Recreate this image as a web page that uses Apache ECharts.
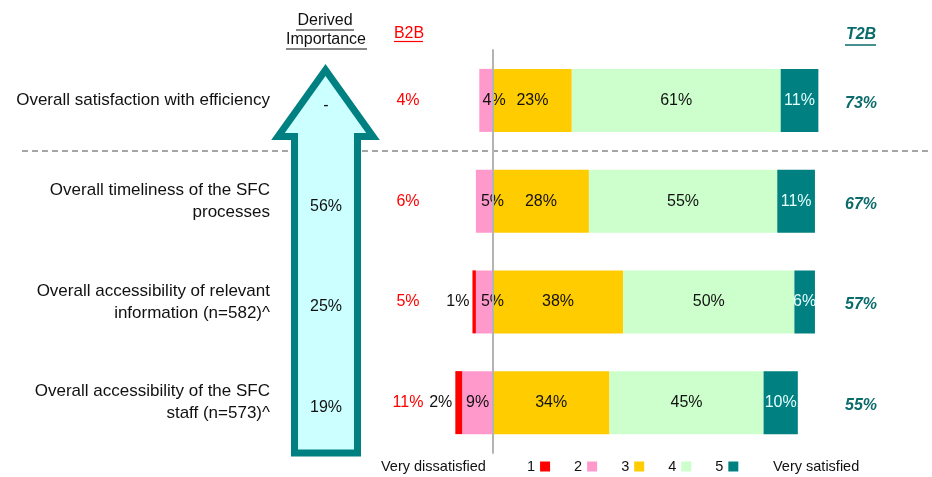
<!DOCTYPE html>
<html>
<head>
<meta charset="utf-8">
<script src="https://cdn.jsdelivr.net/npm/echarts@6/dist/echarts.min.js"></script>
<style>
html, body { margin: 0; padding: 0; background: #fff; }
#main { width: 932px; height: 477px; }
</style>
</head>
<body>
<div id="main"></div>
<script>
// rows, top to bottom
var categories = [
    'Overall satisfaction with efficiency',
    'Overall timeliness of the SFC\nprocesses',
    'Overall accessibility of relevant\ninformation (n=582)^',
    'Overall accessibility of the SFC\nstaff (n=573)^'
];
var scaleNames = ['1', '2', '3', '4', '5'];
var score1 = [0, 0, 1, 2];
var score2 = [4, 5, 5, 9];
var score3 = [23, 28, 38, 34];
var score4 = [61, 55, 50, 45];
var score5 = [11, 11, 6, 10];
var b2b = ['4%', '6%', '5%', '11%'];
var t2b = ['73%', '67%', '57%', '55%'];
var importance = ['-', '56%', '25%', '19%'];

var FONT = 'Arial, "Liberation Sans", sans-serif';
var colors = { '1': '#ff0000', '2': '#ff99cc', '3': '#ffcc00', '4': '#ccffcc', '5': '#008080' };
var TEAL = '#0b6b6b';

// tiny jquery-like extend so the helpers stay short
var $ = { extend: function (a, b) { for (var k in b) { a[k] = b[k]; } return a; } };

var myChart = echarts.init(document.getElementById('main'));

function pct(p) {
    var v = Math.abs(p.value);
    return v === 0 ? '' : v + '%';
}

function barSeries(name, values, negative, label) {
    return {
        name: name,
        type: 'bar',
        stack: 'likert',
        barWidth: 63,
        itemStyle: { color: colors[name] },
        label: $.extend({ show: true, fontSize: 16, fontFamily: FONT, color: '#111', formatter: pct }, label),
        data: values.map(function (v) { return negative ? -v : v; })
    };
}

// negative side: stack "2" first so it sits next to zero, "1" goes outside it
var pinkSeries = barSeries('2', score2, true, { position: 'inside' });
pinkSeries.data = score2.map(function (v) {
    return { value: -v, label: { offset: v < 8 ? [8, 0] : [0, 0] } };
});

var option = {
    animation: false,
    textStyle: { fontFamily: FONT },
    grid: { left: 424.5, right: 96.5, top: 50, bottom: 24, containLabel: false, outerBoundsMode: 'none' },
    xAxis: { type: 'value', min: -20, max: 100, show: false },
    yAxis: {
        type: 'category',
        inverse: true,
        data: categories,
        z: 5,
        axisLine: { onZero: true, lineStyle: { color: '#b4b4b4', width: 2 } },
        axisTick: { length: 4, lineStyle: { color: '#b4b4b4', width: 1.5 } },
        // labels stay at the grid edge (424.5), not at the zero line
        axisLabel: { margin: 154.5, fontSize: 17, lineHeight: 22, color: '#111', fontFamily: FONT, align: 'right' }
    },
    legend: {
        data: scaleNames,
        left: 527,
        top: 459,
        padding: 0,
        align: 'right',
        icon: 'rect',
        itemWidth: 10,
        itemHeight: 10,
        itemGap: 24,
        selectedMode: false,
        textStyle: { fontSize: 14.5, color: '#111', fontFamily: FONT }
    },
    series: [
        pinkSeries,
        barSeries('1', score1, true, { position: 'left', distance: 3 }),
        barSeries('3', score3, false, { position: 'inside' }),
        barSeries('4', score4, false, { position: 'inside' }),
        barSeries('5', score5, false, { position: 'inside', color: '#e6ffff' })
    ]
};
myChart.setOption(option);

// side columns and decorations
function txt(text, x, y, style) {
    return {
        type: 'text', z: 20, silent: true,
        style: $.extend({
            text: text, x: x, y: y, fill: '#111', fontSize: 16, fontFamily: FONT,
            align: 'center', verticalAlign: 'middle'
        }, style || {})
    };
}
function line(x1, y1, x2, y2, style) {
    return {
        type: 'line', z: 20, silent: true,
        shape: { x1: x1, y1: y1, x2: x2, y2: y2 },
        style: $.extend({ stroke: '#111', lineWidth: 1.2 }, style || {})
    };
}

var elements = [];
// dashed separator between first row and the rest
elements.push($.extend(line(22, 151, 932, 151, { stroke: '#888', lineWidth: 1.3, lineDash: [6, 4] }), { z: 1 }));
// importance arrow
elements.push({
    type: 'polygon', z: 10, silent: true,
    shape: { points: [[325.5, 70], [373, 136.5], [357.5, 136.5], [357.5, 453], [294.5, 453], [294.5, 136.5], [278, 136.5]] },
    style: { fill: '#ccffff', stroke: '#008080', lineWidth: 7, lineJoin: 'miter' }
});
// headers
elements.push(txt('Derived', 325, 21));
elements.push(line(296, 30, 354, 30));
elements.push(txt('Importance', 326, 40));
elements.push(line(286, 49, 367, 49));
elements.push(txt('B2B', 409, 34, { fill: '#ff0000' }));
elements.push(line(394, 41.5, 423, 41.5, { stroke: '#ff0000' }));
elements.push(txt('T2B', 861, 35, { fill: TEAL, fontWeight: 'bold', fontStyle: 'italic' }));
elements.push(line(845, 45, 876, 45, { stroke: TEAL, lineWidth: 1.5 }));
// legend end labels
elements.push(txt('Very dissatisfied', 381, 467, { align: 'left', fontSize: 14.5 }));
elements.push(txt('Very satisfied', 773, 467, { align: 'left', fontSize: 14.5 }));

for (var i = 0; i < categories.length; i++) {
    var y = myChart.convertToPixel({ yAxisIndex: 0 }, i);
    elements.push(txt(b2b[i], 408, y, { fill: '#ff0000' }));
    elements.push(txt(importance[i], 326, y + 5));
    elements.push(txt(t2b[i], 861, y + 3, { fill: TEAL, fontWeight: 'bold', fontStyle: 'italic' }));
}

myChart.setOption({ graphic: { elements: elements } });
</script>
</body>
</html>
